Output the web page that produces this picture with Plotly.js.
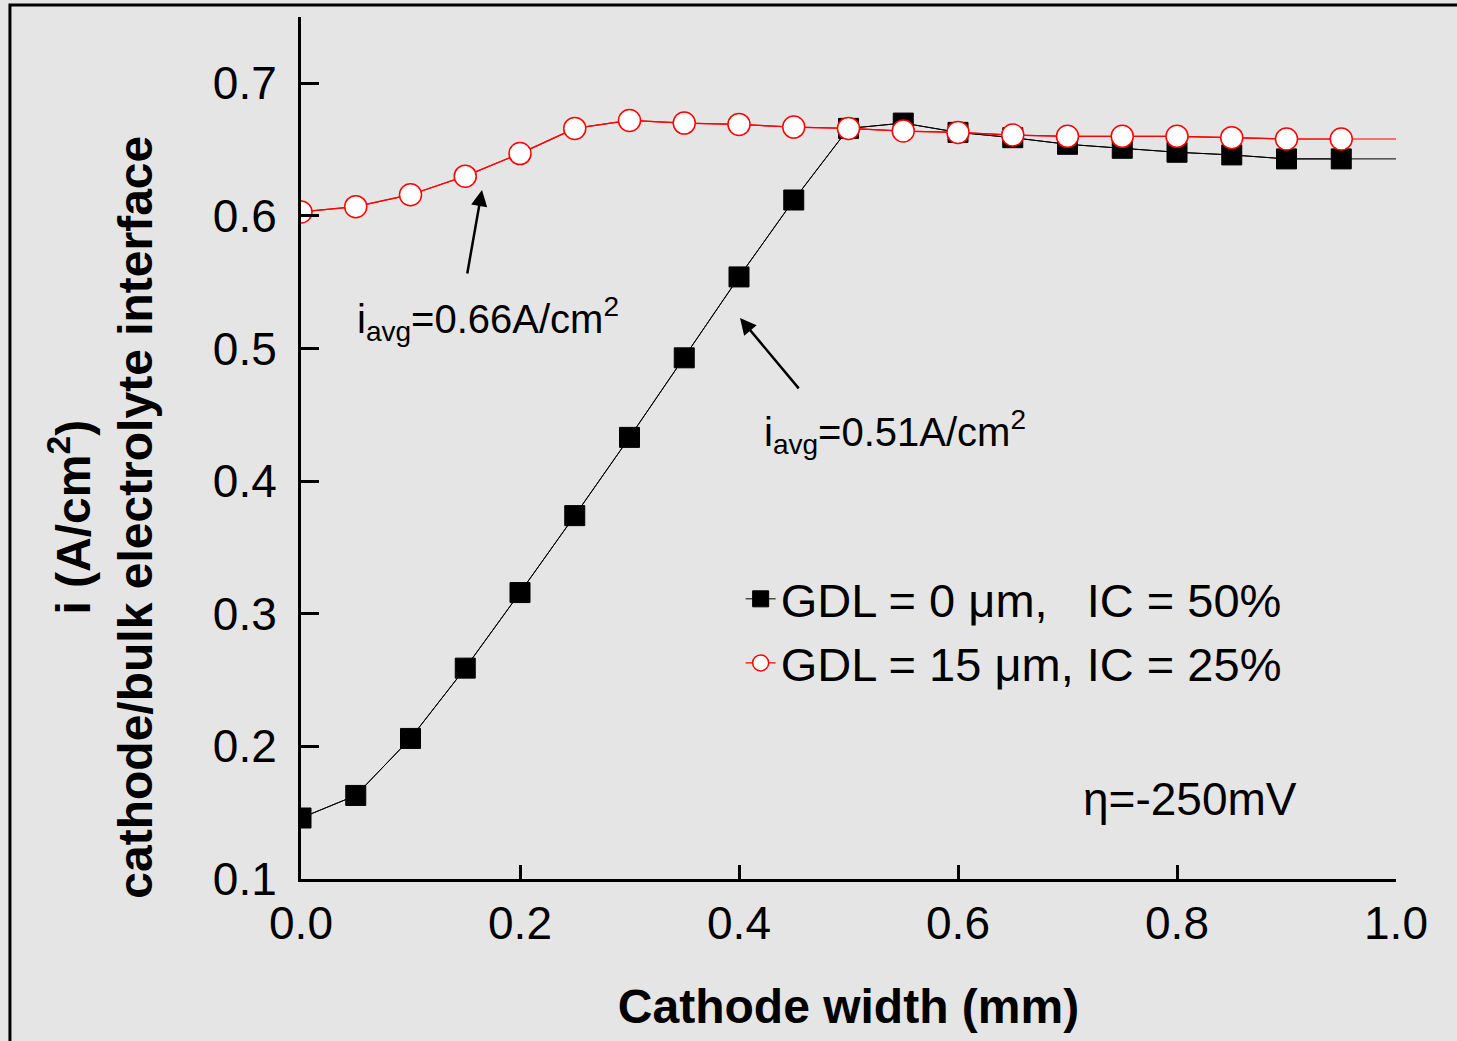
<!DOCTYPE html>
<html>
<head>
<meta charset="utf-8">
<script src="https://cdn.plot.ly/plotly-3.0.1.min.js"></script>
<style>html,body{margin:0;padding:0;background:#e5e5e5;}#chart{width:1457px;height:1041px;}</style>
</head>
<body>
<div id="chart"></div>
<script>
// Cathode width positions (mm) where markers are drawn
const widthMarkers = [0.00,0.05,0.10,0.15,0.20,0.25,0.30,0.35,0.40,0.45,0.50,0.55,0.60,0.65,0.70,0.75,0.80,0.85,0.90,0.95];
// Line continues to the end of the cathode
const widthEnd = 1.0;

// GDL = 0 um, IC = 50%
const gdl0Current = [0.146,0.163,0.206,0.259,0.316,0.374,0.433,0.493,0.554,0.612,0.666,0.670,0.663,0.659,0.654,0.651,0.648,0.646,0.643,0.643];
const gdl0End = 0.643;

// GDL = 15 um, IC = 25%
const gdl15Current = [0.603,0.607,0.616,0.630,0.647,0.666,0.672,0.670,0.669,0.667,0.666,0.664,0.663,0.661,0.660,0.660,0.660,0.659,0.658,0.658];
const gdl15End = 0.658;

const seriesNames = ['GDL = 0 \u03bcm,   IC = 50%', 'GDL = 15 \u03bcm, IC = 25%'];
const xTickVals = [0.0,0.2,0.4,0.6,0.8,1.0];
const yTickVals = [0.1,0.2,0.3,0.4,0.5,0.6,0.7];

const FONT = 'Liberation Sans, Arial, Helvetica, sans-serif';
const BG = '#e5e5e5';

const traces = [
  {x: widthMarkers.concat([widthEnd]), y: gdl0Current.concat([gdl0End]), mode:'lines',
   line:{color:'#000000', width:1}, showlegend:false, hoverinfo:'skip'},
  {x: widthMarkers, y: gdl0Current, mode:'lines+markers', name: seriesNames[0],
   line:{color:'#000000', width:1},
   marker:{symbol:'square', size:20, color:'#000000', line:{color:'#000000', width:1}}},
  {x: widthMarkers.concat([widthEnd]), y: gdl15Current.concat([gdl15End]), mode:'lines',
   line:{color:'#ff0000', width:1.2}, showlegend:false, hoverinfo:'skip'},
  {x: widthMarkers, y: gdl15Current, mode:'lines+markers', name: seriesNames[1],
   line:{color:'#ff0000', width:1.2},
   marker:{symbol:'circle', size:22, color:'#ffffff', line:{color:'#ff0000', width:1.5}}}
];

const layout = {
  width:1457, height:1041,
  paper_bgcolor:BG, plot_bgcolor:BG,
  margin:{l:301, r:61, t:17, b:162, pad:0},
  font:{family:FONT, color:'#000000', size:46},
  showlegend:true,
  legend:{x:0.4015, y:0.368, xanchor:'left', yanchor:'top', bgcolor:'rgba(0,0,0,0)',
          font:{family:FONT, size:47, color:'#000000'}, itemwidth:30, tracegroupgap:0},
  xaxis:{range:[0,1.0], tickvals:xTickVals, tickformat:'.1f', ticks:'inside', ticklen:14, tickwidth:3,
         tickcolor:'#000', showline:true, linewidth:3, linecolor:'#000', showgrid:false, zeroline:false,
         tickfont:{family:FONT, size:46}, ticklabelstandoff:2,
         title:{text:'<b>Cathode width (mm)</b>', font:{family:FONT, size:48}, standoff:42}},
  yaxis:{range:[0.1,0.75], tickvals:yTickVals, tickformat:'.1f', ticks:'inside', ticklen:18, tickwidth:3,
         tickcolor:'#000', showline:true, linewidth:3, linecolor:'#000', showgrid:false, zeroline:false,
         tickfont:{family:FONT, size:46}, ticklabelstandoff:12},
  shapes:[
    {type:'rect', xref:'paper', yref:'paper', x0:-0.2658, x1:1.1, y0:-0.3, y1:1.0139,
     line:{color:'#000', width:3}, fillcolor:'rgba(0,0,0,0)', layer:'above'}
  ],
  annotations:[
    {xref:'paper', yref:'paper', x:-0.182, y:0.42, textangle:-90, showarrow:false,
     text:'<b>i (A/cm<sup>2</sup>)</b><br><b>cathode/bulk electrolyte interface</b>',
     font:{family:FONT, size:48, color:'#000'}, xanchor:'center', yanchor:'middle'},
    {x:0.171, y:0.522, xref:'x', yref:'y', showarrow:false,
     text:'i<sub>avg</sub>=0.66A/cm<sup>2</sup>', font:{family:FONT, size:40, color:'#000'}},
    {x:0.5425, y:0.437, xref:'x', yref:'y', showarrow:false,
     text:'i<sub>avg</sub>=0.51A/cm<sup>2</sup>', font:{family:FONT, size:40, color:'#000'}},
    {x:0.812, y:0.160, xref:'x', yref:'y', showarrow:false,
     text:'\u03b7=-250mV', font:{family:FONT, size:46, color:'#000'}},
    {x:0.1653, y:0.6196, ax:0.1516, ay:0.5555, xref:'x', yref:'y', axref:'x', ayref:'y',
     text:'', showarrow:true, arrowhead:2, arrowsize:1.3, arrowwidth:2.5, arrowcolor:'#000'},
    {x:0.4009, y:0.523, ax:0.4557, ay:0.4688, xref:'x', yref:'y', axref:'x', ayref:'y',
     text:'', showarrow:true, arrowhead:2, arrowsize:1.3, arrowwidth:2.5, arrowcolor:'#000'}
  ]
};

Plotly.newPlot('chart', traces, layout, {displayModeBar:false, staticPlot:true});
</script>
</body>
</html>
